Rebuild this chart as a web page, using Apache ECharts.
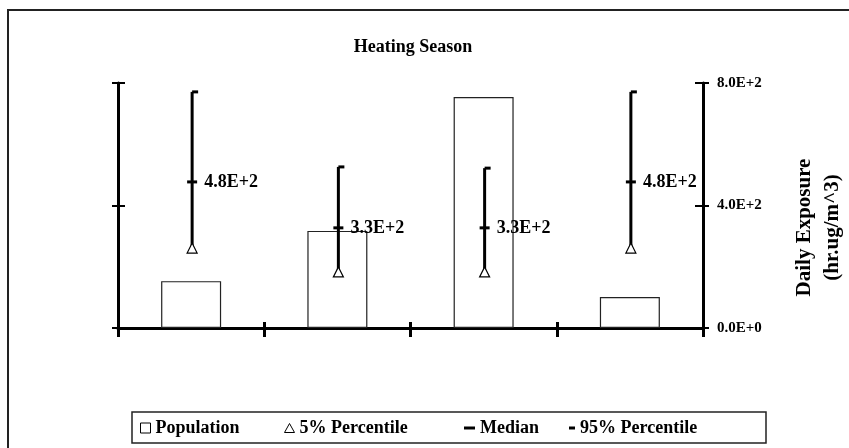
<!DOCTYPE html>
<html>
<head>
<meta charset="utf-8">
<script src="https://cdn.jsdelivr.net/npm/echarts@6/dist/echarts.min.js"></script>
<style>
html, body { margin: 0; padding: 0; background: #fff; }
#main { width: 849px; height: 448px; }
</style>
</head>
<body>
<div id="main"></div>
<script>
// data
var categories = ['1', '2', '3', '4'];
var population = [153, 317, 754, 101];
var pct5 = [261, 183, 183, 261];
var median = [477, 327, 327, 477];
var pct95 = [771, 526, 522, 771];

var FONT = 'Liberation Serif';
var chartDom = document.getElementById('main');
var myChart = echarts.init(chartDom, null, { renderer: 'canvas' });

function expLabel(v) {
	return Number(v).toExponential(1).toUpperCase();
}

// error bar line 5% -> 95%
var rangeData = [];
for (var i = 0; i < categories.length; i++) {
	rangeData.push([i, pct5[i], pct95[i]]);
}

function legendItem(name, left, icon, w, h, style) {
	return {
		left: left,
		top: 419,
		padding: 0,
		itemWidth: w,
		itemHeight: h,
		selectedMode: false,
		textStyle: { fontFamily: FONT, fontWeight: 'bold', fontSize: 18, color: '#000', lineHeight: 18 },
		data: [{ name: name, icon: icon, itemStyle: style }]
	};
}

var option = {
	animation: false,
	backgroundColor: '#fff',
	title: {
		text: 'Heating Season',
		left: 408,
		textAlign: 'center',
		top: 33,
		textStyle: { fontFamily: FONT, fontWeight: 'bold', fontSize: 18, color: '#000' }
	},
	graphic: [
		{ type: 'rect', shape: { x: 8, y: 10, width: 900, height: 500 }, style: { fill: null, stroke: '#222', lineWidth: 2 }, silent: true },
		{ type: 'rect', shape: { x: 132, y: 412, width: 634, height: 31 }, style: { fill: null, stroke: '#222', lineWidth: 1.5 }, silent: true }
	],
	legend: [
		legendItem('Population', 140, 'rect', 10, 10, { color: '#fff', borderColor: '#000', borderWidth: 1 }),
		legendItem('5% Percentile', 284, 'triangle', 10, 9, { color: '#fff', borderColor: '#000', borderWidth: 1 }),
		legendItem('Median', 464, 'rect', 11, 3, { color: '#000' }),
		legendItem('95% Percentile', 569, 'rect', 6, 3, { color: '#000' })
	],
	grid: { left: 118, right: 146, top: 83, bottom: 120, outerBoundsMode: 'none' },
	xAxis: [
		{
			type: 'category', data: categories, boundaryGap: true,
			axisLine: { lineStyle: { color: '#000', width: 3 } },
			axisTick: { show: true, inside: false, length: 9, lineStyle: { color: '#000', width: 3 } },
			axisLabel: { show: false }, splitLine: { show: false }
		},
		{
			type: 'category', data: categories, boundaryGap: true, position: 'bottom',
			axisLine: { show: false },
			axisTick: { show: true, inside: true, length: 6, lineStyle: { color: '#000', width: 3 } },
			axisLabel: { show: false }, splitLine: { show: false }
		}
	],
	yAxis: [
		{
			type: 'value', position: 'left', min: 0, max: 800, interval: 400,
			axisLine: { show: true, lineStyle: { color: '#000', width: 3 } },
			axisTick: { show: true, inside: false, length: 6, lineStyle: { color: '#000', width: 2 } },
			axisLabel: { show: false }, splitLine: { show: false }
		},
		{
			type: 'value', position: 'right', min: 0, max: 800, interval: 400,
			name: 'Daily Exposure\n(hr.ug/m^3)',
			nameLocation: 'middle', nameRotate: 90, nameGap: 88,
			nameTextStyle: {
				fontFamily: FONT, fontWeight: 'bold', fontSize: 21, color: '#000', lineHeight: 28, align: 'center',
				padding: [0, 44, 0, 0]
			},
			axisLine: { show: true, lineStyle: { color: '#000', width: 3 } },
			axisTick: { show: true, inside: false, length: 6, lineStyle: { color: '#000', width: 2 } },
			axisLabel: {
				margin: 14, fontFamily: FONT, fontWeight: 'bold', fontSize: 15, color: '#000',
				formatter: function (v) { return expLabel(v); }
			},
			splitLine: { show: false }
		},
		{
			type: 'value', position: 'left', min: 0, max: 800, interval: 400,
			axisLine: { show: false },
			axisTick: { show: true, inside: true, length: 7, lineStyle: { color: '#000', width: 2 } },
			axisLabel: { show: false }, splitLine: { show: false }
		},
		{
			type: 'value', position: 'right', min: 0, max: 800, interval: 400,
			axisLine: { show: false },
			axisTick: { show: true, inside: true, length: 8, lineStyle: { color: '#000', width: 2 } },
			axisLabel: { show: false }, splitLine: { show: false }
		}
	],
	series: [
		{
			name: 'Population',
			type: 'bar',
			yAxisIndex: 0,
			data: population,
			barWidth: 60,
			itemStyle: { color: '#fff', borderColor: '#222', borderWidth: 1.2 },
			z: 2
		},
		{
			name: 'range',
			type: 'custom',
			yAxisIndex: 1,
			data: rangeData,
			z: 3,
			renderItem: function (params, api) {
				var lo = api.coord([api.value(0), api.value(1)]);
				var hi = api.coord([api.value(0), api.value(2)]);
				return {
					type: 'line',
					shape: { x1: lo[0] + 1, y1: lo[1], x2: hi[0] + 1, y2: hi[1] },
					style: { stroke: '#000', lineWidth: 3 }
				};
			}
		},
		{
			name: '5% Percentile',
			type: 'scatter',
			yAxisIndex: 1,
			data: pct5,
			symbol: 'triangle',
			symbolSize: [10, 10],
			symbolOffset: [1, 0],
			itemStyle: { color: '#fff', borderColor: '#000', borderWidth: 1.2, opacity: 1 },
			z: 4
		},
		{
			name: 'Median',
			type: 'scatter',
			yAxisIndex: 1,
			data: median,
			symbol: 'rect',
			symbolSize: [10, 3],
			symbolOffset: [1, 0],
			itemStyle: { color: '#000', opacity: 1 },
			label: {
				show: true, position: 'right', distance: 7,
				fontFamily: FONT, fontWeight: 'bold', fontSize: 18, color: '#000',
				formatter: function (p) { return expLabel(p.value); }
			},
			z: 4
		},
		{
			name: '95% Percentile',
			type: 'scatter',
			yAxisIndex: 1,
			data: pct95,
			symbol: 'rect',
			symbolSize: [6, 3],
			symbolOffset: [4, 0],
			itemStyle: { color: '#000', opacity: 1 },
			z: 4
		}
	]
};

if (option && typeof option === 'object') {
	myChart.setOption(option);
}
window.addEventListener('resize', myChart.resize);
</script>
</body>
</html>
